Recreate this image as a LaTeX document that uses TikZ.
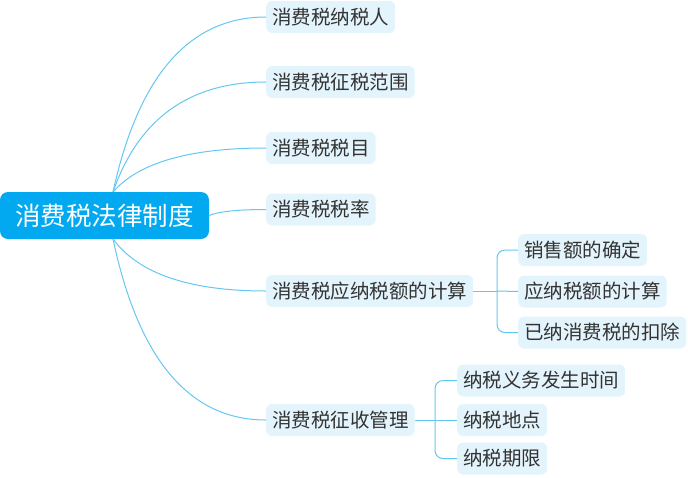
\documentclass[tikz,border=0pt]{standalone}
\usepackage{fontspec}
\setmainfont{Noto Sans CJK SC}
\usepackage{tikz}
\usetikzlibrary{calc}
\usepackage{xcolor}

\definecolor{rootblue}{RGB}{3,169,240}
\definecolor{topicfill}{RGB}{228,244,252}
\definecolor{linkblue}{RGB}{100,199,242}
\definecolor{textgray}{RGB}{51,51,51}

\begin{document}
\begin{tikzpicture}[
    x=1pt, y=1pt,
    central/.style={fill=rootblue, rounded corners=8pt, text=white, font=\fontsize{25.5}{30}\selectfont, minimum width=209pt, minimum height=47pt, inner sep=0pt, text height=22pt, text depth=3pt},
    topic/.style={fill=topicfill, rounded corners=6pt, text=textgray, font=\fontsize{19.5}{23}\selectfont, inner xsep=6pt, inner ysep=0pt, minimum height=32pt, text height=17pt, text depth=2.5pt, anchor=west},
    link/.style={draw=linkblue, line width=1pt},
    curvy/.style={to path={.. controls ($(\tikztostart)!2/3!($(\tikztostart |- \tikztotarget)!0.25!(\tikztotarget)$)$) and ($(\tikztotarget)!2/3!($(\tikztostart |- \tikztotarget)!0.25!(\tikztotarget)$)$) .. (\tikztotarget)}},
]
\useasboundingbox (0,0) rectangle (688,-477);

% --- central topic ---
\node[central] (root) at (104.5,-215.5) {消费税法律制度};
\coordinate (rootup) at (113,-192);
\coordinate (rootdown) at (113,-239);

% --- main topics ---
\node[topic] (payer) at (266,-17) {消费税纳税人};
\node[topic] (scope) at (266,-82) {消费税征税范围};
\node[topic] (items) at (266,-148) {消费税税目};
\node[topic] (rates) at (266,-209.5) {消费税税率};
\node[topic] (calc) at (266,-291) {消费税应纳税额的计算};
\node[topic] (admin) at (266,-420) {消费税征收管理};

% --- subtopics ---
\node[topic] (sales) at (518,-250) {销售额的确定};
\node[topic] (payable) at (518,-291.5) {应纳税额的计算};
\node[topic] (deduct) at (518,-332.5) {已纳消费税的扣除};

\node[topic] (duetime) at (457,-380.5) {纳税义务发生时间};
\node[topic] (place) at (457,-420) {纳税地点};
\node[topic] (period) at (457,-458.5) {纳税期限};

\coordinate (calcfork) at (497,-291);
\coordinate (adminfork) at (435,-420);

% --- links from the centre ---
\draw[link] (rootup) to[curvy] (payer.west);
\draw[link] (rootup) to[curvy] (scope.west);
\draw[link] (rootup) to[curvy] (items.west);
\draw[link] (root.east) to[curvy] (rates.west);
\draw[link] (rootdown) to[curvy] (calc.west);
\draw[link] (rootdown) to[curvy] (admin.west);

% --- links to subtopics ---
\draw[link] (calc.east) -- (calcfork);
\draw[link, rounded corners=8pt] (calcfork) |- (sales.west);
\draw[link] (calcfork) -- (payable.west);
\draw[link, rounded corners=8pt] (calcfork) |- (deduct.west);

\draw[link] (admin.east) -- (adminfork);
\draw[link, rounded corners=8pt] (adminfork) |- (duetime.west);
\draw[link] (adminfork) -- (place.west);
\draw[link, rounded corners=8pt] (adminfork) |- (period.west);
\end{tikzpicture}
\end{document}
